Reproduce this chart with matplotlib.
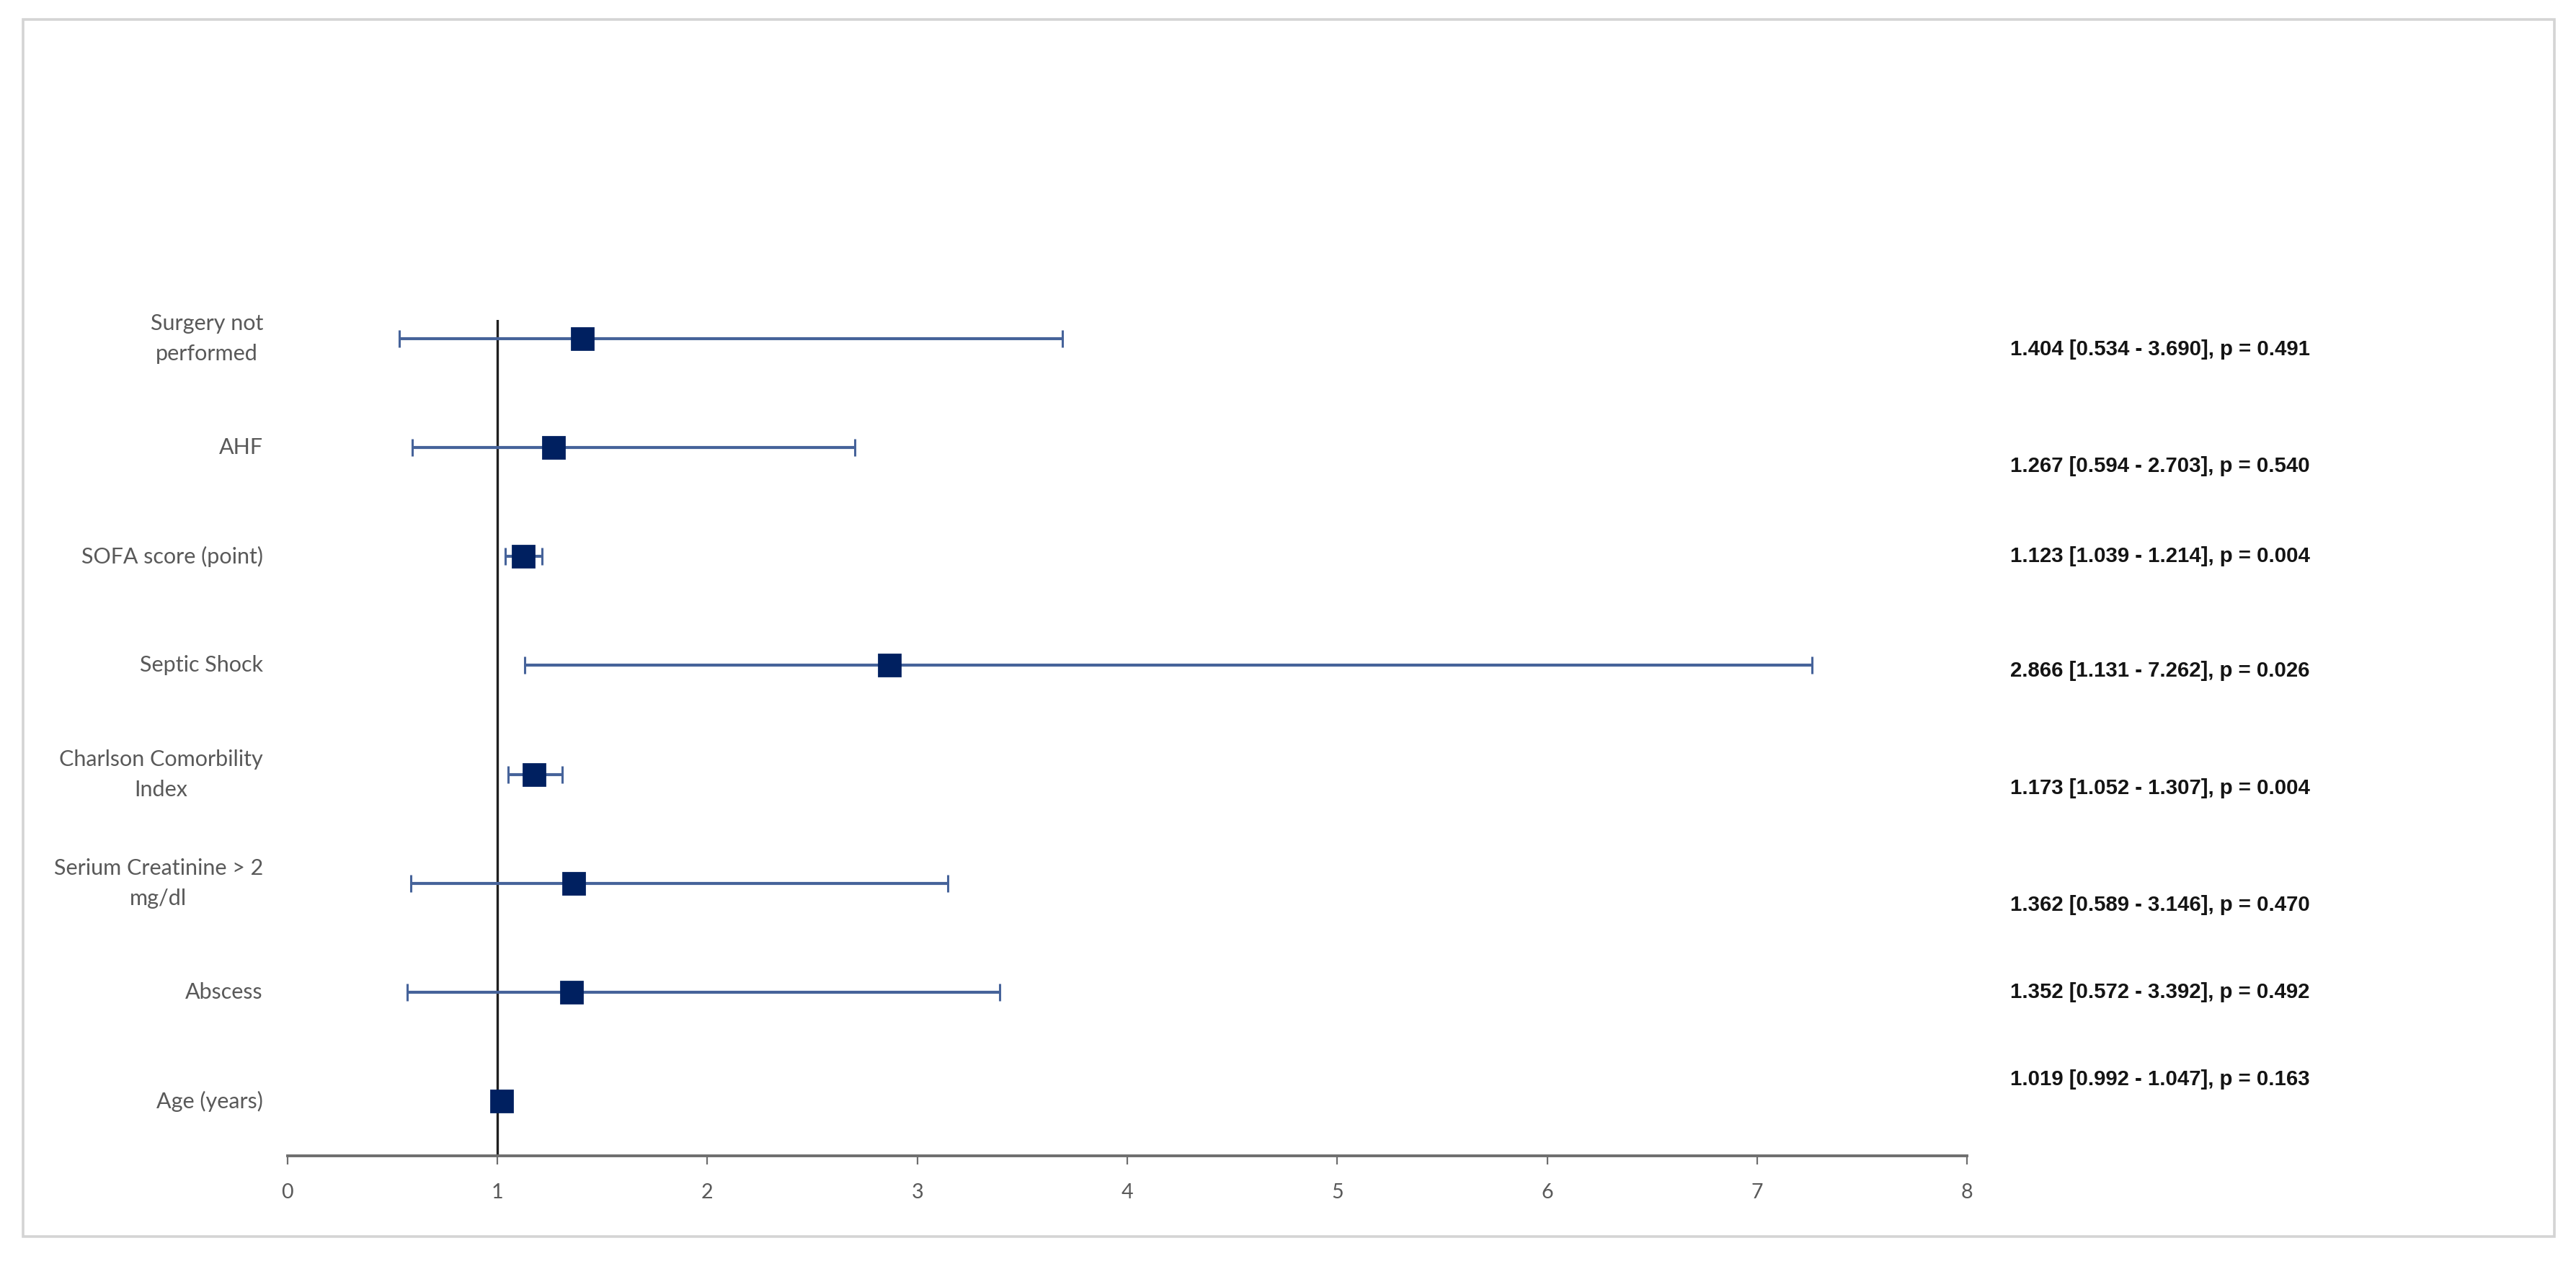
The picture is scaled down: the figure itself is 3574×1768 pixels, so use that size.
import matplotlib
matplotlib.use("Agg")
import matplotlib.pyplot as plt
import matplotlib.transforms as mtransforms
from matplotlib.patches import Rectangle

# forest plot data (top to bottom)
labels = ["Surgery not\nperformed", "AHF", "SOFA score (point)", "Septic Shock",
          "Charlson Comorbility\nIndex", "Serium Creatinine > 2\nmg/dl", "Abscess", "Age (years)"]
odds = [1.404, 1.267, 1.123, 2.866, 1.173, 1.362, 1.352, 1.019]
ci_low = [0.534, 0.594, 1.039, 1.131, 1.052, 0.589, 0.572, 0.992]
ci_high = [3.690, 2.703, 1.214, 7.262, 1.307, 3.146, 3.392, 1.047]
p_values = ["0.491", "0.540", "0.004", "0.026", "0.004", "0.470", "0.492", "0.163"]
x_ticks = [0, 1, 2, 3, 4, 5, 6, 7, 8]

# vertical nudges of the right-hand texts (in row units), as in the original layout
text_shift = [-0.10, -0.17, 0.0, -0.05, -0.13, -0.20, 0.0, 0.20]


def main():
    plt.rcParams["font.family"] = ["Lato", "DejaVu Sans"]
    fig = plt.figure(figsize=(17.87, 8.84), dpi=200)
    ax = fig.add_axes([0.1116, 0.0928, 0.652, 0.6561])

    n = len(labels)
    ypos = [n - 1 - i for i in range(n)]
    xerr = [[o - l for o, l in zip(odds, ci_low)], [h - o for o, h in zip(odds, ci_high)]]

    ax.errorbar(odds, ypos, xerr=xerr, fmt="none", ecolor="#46639a",
                elinewidth=1.5, capsize=4.3, capthick=1.1, zorder=2)
    ax.plot(odds, ypos, linestyle="none", marker="s", markersize=10.8,
            color="#002060", zorder=3)
    ax.axvline(1, color="#1f1f1f", lw=1.2, zorder=1)

    ax.set_xlim(0, 8)
    ax.set_ylim(-0.5, 7.17)
    ax.set_xticks(x_ticks)
    ax.set_yticks([])
    for s in ["top", "right", "left"]:
        ax.spines[s].set_visible(False)
    ax.spines["bottom"].set_color("#6e6e6e")
    ax.spines["bottom"].set_linewidth(1.4)
    ax.tick_params(axis="x", direction="out", length=4.3, width=0.8,
                   color="#6e6e6e", labelsize=10.3, labelcolor="#595959", pad=9.5)

    # row labels on the left
    trans_l = mtransforms.blended_transform_factory(fig.transFigure, ax.transData)
    for y, lab in zip(ypos, labels):
        fig.text(0.1021, y, lab, transform=trans_l, ha="right", va="center",
                 multialignment="center", fontsize=11, color="#595959",
                 linespacing=1.6)

    # OR [CI], p texts on the right
    for y, o, l, h, p, sh in zip(ypos, odds, ci_low, ci_high, p_values, text_shift):
        txt = f"{o:.3f} [{l:.3f} - {h:.3f}], p = {p}"
        fig.text(0.7804, y + sh, txt, transform=trans_l, ha="left", va="center",
                 fontsize=10.6, fontweight="bold", color="#141414",
                 family=["Liberation Sans", "DejaVu Sans"])

    # light frame around the whole chart
    fig.patches.append(Rectangle((0.009, 0.0294), 0.9826, 0.9553,
                                 transform=fig.transFigure, fill=False,
                                 edgecolor="#d4d4d4", lw=1.3))

    fig.savefig("out.png", dpi=200, facecolor="white")
    plt.close(fig)


if __name__ == "__main__":
    main()
